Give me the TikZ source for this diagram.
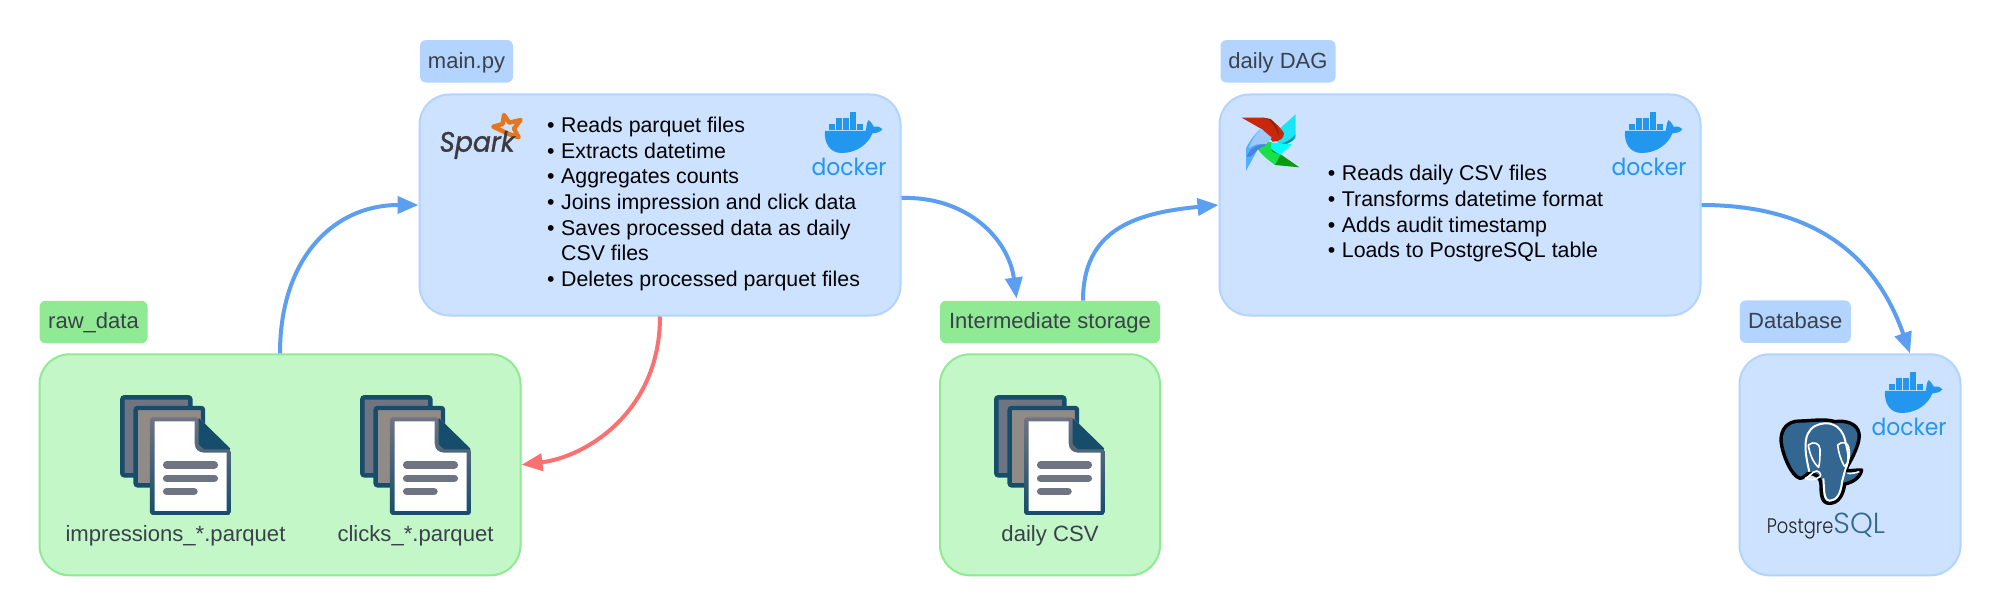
\documentclass[tikz,border=0pt]{standalone}
\usepackage{fontspec}
\setmainfont{Liberation Sans}
\newfontfamily\logofont{Poppins}
\newfontfamily\sparkfont[FakeBold=1.2]{Poppins}
\newfontfamily\pgsqlfont{Poppins Light}
\usetikzlibrary{arrows.meta,shadings}
\definecolor{bluefill}{HTML}{CCE2FF}
\definecolor{blueline}{HTML}{B2D4FF}
\definecolor{greenfill}{HTML}{C3F7C8}
\definecolor{greenline}{HTML}{90E993}
\definecolor{labeltext}{HTML}{3A414A}
\definecolor{flowblue}{HTML}{5C9FF0}
\definecolor{flowred}{HTML}{FB7070}
\definecolor{docdark}{HTML}{154D6B}
\definecolor{docgrey}{HTML}{6F7482}
\definecolor{docbrown}{HTML}{918B87}
\definecolor{dockerblue}{HTML}{2396ED}
\definecolor{pgblue}{HTML}{336791}
\definecolor{sparkorange}{RGB}{228,118,31}
\definecolor{sparkgrey}{RGB}{60,58,62}
\definecolor{afred}{RGB}{200,39,10}
\definecolor{afdarkred}{RGB}{143,36,8}
\definecolor{afcyan}{RGB}{25,229,245}
\definecolor{afteal}{RGB}{23,137,173}
\definecolor{afdarkgreen}{RGB}{10,154,18}
\definecolor{afgreen}{RGB}{23,224,74}
\definecolor{afblue}{RGB}{79,176,255}
\definecolor{afmidblue}{RGB}{79,127,224}
\definecolor{afpale}{RGB}{160,200,255}
\definecolor{afbright}{RGB}{0,255,255}
\definecolor{pgtextgrey}{RGB}{33,33,33}
\tikzset{
  panel/.style={draw,line width=2pt,rounded corners=30pt,minimum height=221pt,inner sep=0pt},
  bluepanel/.style={panel,fill=bluefill,draw=blueline},
  greenpanel/.style={panel,fill=greenfill,draw=greenline},
  tagbox/.style={rounded corners=6pt,minimum height=42.5pt,inner sep=0pt,text=labeltext,
    font=\fontsize{22}{26}\selectfont,text height=16.5pt,text depth=3pt},
  bluetag/.style={tagbox,fill=blueline},
  greentag/.style={tagbox,fill=greenline},
  itemlist/.style={anchor=north west,inner sep=0pt,align=left,text=black,
    font=\fontsize{21.33}{25.67}\selectfont},
  caption/.style={anchor=base,inner sep=0pt,text=labeltext,font=\fontsize{22.1}{26}\selectfont},
  flow/.style={line width=4pt,-{Triangle[length=21pt,width=17pt]}},
}
\newcommand{\itm}{\makebox[14pt][l]{•}}
\newcommand{\docstack}[2]{%
  \begin{scope}[shift={(#1,#2)},x=0.3333pt,y=-0.3333pt]
    \draw[docdark,line width=4.4pt,fill=docgrey,rounded corners=2pt] (67,52) rectangle (271,286);
    \draw[docdark,line width=4.4pt,fill=docbrown,rounded corners=2pt] (107,84) rectangle (309,316);
    \shade[top color=docgrey,bottom color=docdark,rounded corners=3pt]
      (150,112) -- (296,112) -- (393,208) -- (393,405) -- (150,405) -- cycle;
    \fill[docdark,rounded corners=1pt] (296,114) -- (393,208) -- (312,208) -- (296,192) -- cycle;
    \fill[white] (164,124) -- (284,124) -- (284,190) .. controls (284,208) and (296,218) .. (312,218)
      -- (380,218) -- (380,393) -- (164,393) -- cycle;
    \draw[docgrey,line width=7.5pt,line cap=round] (200,255) -- (343,255) (200,295) -- (343,295) (200,334) -- (282,334);
  \end{scope}}
\newcommand{\dockerlogo}[2]{%
  \begin{scope}[shift={(#1,#2)},x=0.3333pt,y=-0.3333pt]
    \fill[dockerblue] (75,93) -- (197,93) .. controls (200,85) and (198,70) .. (206,60)
      .. controls (214,66) and (218,74) .. (221,80) .. controls (230,78) and (240,80) .. (247,88)
      .. controls (242,96) and (228,100) .. (217,100) .. controls (205,132) and (170,159) .. (125,159)
      .. controls (90,159) and (72,130) .. (75,93) -- cycle;
    \foreach \bx in {88,109,130,150,170} \fill[dockerblue] (\bx,73) rectangle +(18,17);
    \foreach \bx in {109,130,150} \fill[dockerblue] (\bx,54) rectangle +(18,17);
    \fill[dockerblue] (151,36) rectangle +(18,17);
    \node[anchor=base,inner sep=0pt,text=dockerblue,font=\logofont\fontsize{23.5}{26}\selectfont,xscale=0.93] at (147,226) {docker};
  \end{scope}}
\begin{document}
\begin{tikzpicture}[x=1pt,y=-1pt]
\useasboundingbox (0,0) rectangle (2000,615);
\fill[white] (0,0) rectangle (2000,615);
% panels
\node[bluepanel,minimum width=481pt] (main) at (660,205) {};
\node[bluepanel,minimum width=481pt] (dag) at (1460,205) {};
\node[greenpanel,minimum width=481pt] (raw) at (280,464.8) {};
\node[greenpanel,minimum width=220pt] (store) at (1050,464.8) {};
\node[bluepanel,minimum width=221pt] (db) at (1850,464.8) {};
% tags
\node[bluetag,minimum width=93pt] (maintag) at (466.5,61.3) {main.py};
\node[bluetag,minimum width=115pt] (dagtag) at (1278,61.3) {daily DAG};
\node[greentag,minimum width=108pt] (rawtag) at (93.5,322) {raw\_data};
\node[greentag,minimum width=220pt] (storetag) at (1050,322) {Intermediate storage};
\node[bluetag,minimum width=111pt] (dbtag) at (1795.3,321.7) {Database};
% connectors
\draw[flow,flowblue] (raw.north) .. controls +(0,-95) and +(-85,0) .. (main.west);
\draw[flow,flowred] (main.south) .. controls +(0,95) and +(65,-8) .. (raw.east);
\draw[flow,flowblue] ([yshift=7pt]main.east) .. controls +(65,-2) and +(-8,-60) .. ([xshift=-33.4pt,yshift=2pt]storetag.north);
\draw[flow,flowblue] ([xshift=33pt]storetag.north) .. controls +(0,-70) and +(-85,8) .. (dag.west);
\draw[flow,flowblue] (dag.east) .. controls +(110,0) and +(-35,-100) .. ([xshift=60pt]db.north);
% lists
\node[itemlist] (mainlist) at (547,116.7) {\itm Reads parquet files\\\itm Extracts datetime\\\itm Aggregates counts\\\itm Joins impression and click data\\\itm Saves processed data as daily\\\hspace*{14pt}CSV files\\\itm Deletes processed parquet files};
\node[itemlist] (daglist) at (1327.7,165.2) {\itm Reads daily CSV files\\\itm Transforms datetime format\\\itm Adds audit timestamp\\\itm Loads to PostgreSQL table};
% document icons
\docstack{100}{380}
\docstack{340}{380}
\docstack{974}{380}
\node[caption] (capimp) at (175.5,541.7) {impressions\_*.parquet};
\node[caption] (capclk) at (415.5,541.7) {clicks\_*.parquet};
\node[caption] (capcsv) at (1050,541.7) {daily CSV};
% docker logos
\dockerlogo{800}{100}
\dockerlogo{1600}{100}
\dockerlogo{1860}{360}
% spark logo
\begin{scope}[shift={(430,100)},x=0.3333pt,y=-0.3333pt]
  \draw[sparkorange,line width=4.4pt,line join=round]
    (222,45) -- (238,68) -- (272,60) -- (252,86) -- (266,112) -- (236,102) -- (190,80) -- (218,72) -- cycle;
  \node[anchor=base west,inner sep=0pt,text=sparkgrey,font=\sparkfont\itshape\fontsize{28}{30}\selectfont,xscale=0.95] (sparktext) at (28,155) {Spark};
\end{scope}
% airflow logo
\begin{scope}[shift={(1230,105)},x=0.3333pt,y=-0.3333pt]
  \fill[afcyan] (197,28) -- (197,100) .. controls (185,112) and (170,118) .. (150,118) -- (122,95) -- cycle;
  \fill[afteal] (197,88) .. controls (195,105) and (175,122) .. (145,120) .. controls (165,112) and (185,105) .. (197,88) -- cycle;
  \fill[afred] (35,38) -- (100,38) .. controls (125,40) and (150,65) .. (162,85) .. controls (162,100) and (148,110) .. (128,110) -- (98,74) -- cycle;
  \fill[afdarkred] (100,38) .. controls (118,40) and (135,60) .. (148,95) .. controls (148,75) and (135,50) .. (122,42) -- cycle;
  \fill[afdarkgreen] (122,130) -- (152,148) -- (208,187) -- (135,180) -- cycle;
  \fill[afgreen] (83,132) -- (105,108) -- (125,112) -- (125,140) -- (150,150) -- (135,180) .. controls (115,165) and (95,150) .. (83,132) -- cycle;
  \fill[afblue] (48,197) -- (48,130) .. controls (60,105) and (75,88) .. (92,70) -- (105,110) -- (84,132) -- cycle;
  \fill[afmidblue] (50,155) .. controls (60,128) and (85,115) .. (112,118) -- (85,132) -- (62,155) -- cycle;
  \fill[afpale] (92,70) -- (125,98) -- (108,118) .. controls (90,115) and (70,118) .. (56,130) .. controls (65,105) and (78,88) .. (92,70) -- cycle;
  \fill[afbright] (125,113) -- (186,118) -- (150,150) -- (125,133) -- cycle;
\end{scope}
% postgres logo
\begin{scope}[shift={(1770,410)},x=0.3333pt,y=-0.3333pt]
  \def\elephant{(90,33) .. controls (50,33) and (33,60) .. (33,90) .. controls (35,130) and (65,200) .. (90,205)
    .. controls (100,205) and (108,195) .. (115,190) .. controls (135,190) and (152,200) .. (153,225)
    .. controls (153,255) and (155,280) .. (178,280) .. controls (205,280) and (220,255) .. (224,222)
    .. controls (245,218) and (270,205) .. (275,180) .. controls (262,178) and (245,185) .. (226,180)
    .. controls (250,140) and (272,95) .. (267,70) .. controls (262,40) and (225,30) .. (195,35)
    .. controls (165,25) and (120,33) .. (90,33) -- cycle}
  \path[fill=pgblue,draw=black,line width=3.4pt,line join=round] \elephant;
  \draw[white,line width=2pt,line join=round]
    (118,185) .. controls (105,130) and (95,70) .. (135,48) .. controls (175,28) and (215,45) .. (225,90)
    .. controls (235,130) and (240,150) .. (226,178)
    (160,205) .. controls (163,240) and (160,272) .. (180,272) .. controls (200,272) and (213,250) .. (216,215) -- (226,178);
  \draw[white,line width=1.6pt,line join=round]
    (115,105) .. controls (130,92) and (150,100) .. (150,118) .. controls (150,140) and (150,155) .. (146,172) .. controls (130,160) and (118,130) .. (115,105) -- cycle
    (203,105) .. controls (215,92) and (235,98) .. (236,112) .. controls (240,130) and (240,155) .. (224,170) .. controls (212,150) and (205,125) .. (203,105) -- cycle
    (106,205) .. controls (120,200) and (125,185) .. (140,183) .. controls (150,185) and (155,195) .. (150,200) .. controls (135,210) and (120,212) .. (106,205) -- cycle
    (232,190) .. controls (245,192) and (258,188) .. (268,185);
  \node[anchor=base west,inner sep=0pt,font=\pgsqlfont\fontsize{21}{25}\selectfont] (pgtext) at (-10,370)
    {\scalebox{0.85}[1]{\textcolor{pgtextgrey}{Postgre}}\textcolor{pgblue}{\fontsize{29}{29}\selectfont SQL}};
\end{scope}
\end{tikzpicture}
\end{document}
